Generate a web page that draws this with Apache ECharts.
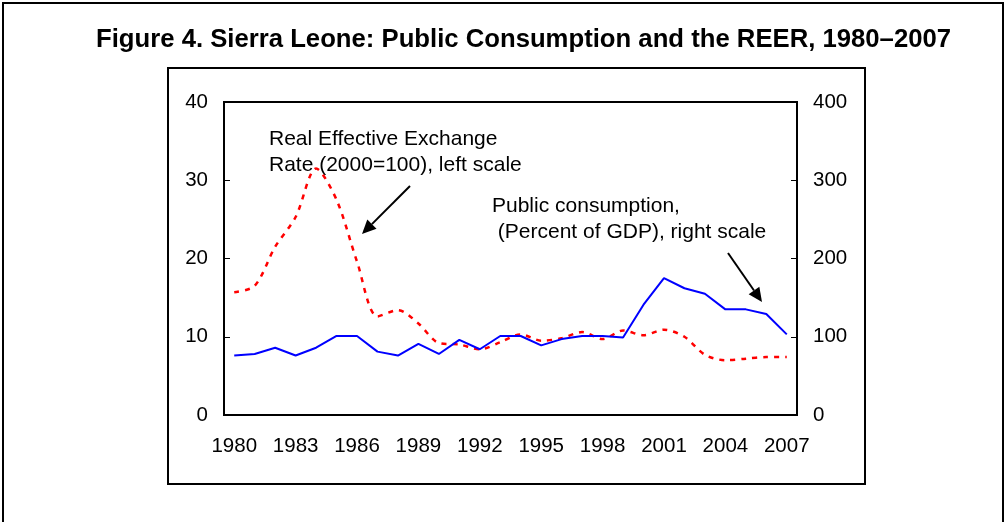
<!DOCTYPE html>
<html>
<head>
<meta charset="utf-8">
<script src="https://cdn.jsdelivr.net/npm/echarts@6/dist/echarts.min.js"></script>
<style>
  html, body { margin: 0; padding: 0; background: #fff; }
  #chart { width: 1008px; height: 522px; }
</style>
</head>
<body>
<div id="chart"></div>
<script>
  const years = [];
  for (let y = 1980; y <= 2007; y++) years.push(String(y));

  // blue line, read against the left scale
  const publicConsumption = [
    7.6, 7.8, 8.6, 7.6, 8.6, 10.1, 10.1, 8.1, 7.6, 9.1,
    7.8, 9.6, 8.4, 10.1, 10.1, 8.9, 9.7, 10.1, 10.1, 9.9,
    14.1, 17.5, 16.2, 15.5, 13.5, 13.5, 12.9, 10.3
  ];
  // red dashed line, read against the right scale
  const reer = [
    157, 165, 215, 253, 315, 275, 196, 126, 134, 117,
    92, 90, 84, 93, 103, 95, 98, 106, 97, 108,
    102, 109, 100, 77, 70, 72, 74, 74
  ];
  const leftTicks = [0, 10, 20, 30, 40];
  const rightTicks = [0, 100, 200, 300, 400];

  const font = 'Liberation Sans, Arial, sans-serif';

  const arrow = (x1, y1, x2, y2) => {
    const a = Math.atan2(y2 - y1, x2 - x1);
    const len = 14, w = 6.5;
    const bx = x2 - len * Math.cos(a), by = y2 - len * Math.sin(a);
    const px = -Math.sin(a) * w, py = Math.cos(a) * w;
    return [
      { type: 'line', shape: { x1: x1, y1: y1, x2: bx, y2: by }, style: { stroke: '#000', lineWidth: 2 } },
      { type: 'polygon', shape: { points: [[x2, y2], [bx + px, by + py], [bx - px, by - py]] }, style: { fill: '#000' } }
    ];
  };

  const chart = echarts.init(document.getElementById('chart'));
  chart.setOption({
    animation: false,
    backgroundColor: '#fff',
    title: {
      text: 'Figure 4. Sierra Leone: Public Consumption and the REER, 1980–2007',
      left: 91,
      top: 22,
      textStyle: { fontFamily: font, fontSize: 25.7, fontWeight: 'bold', color: '#000' }
    },
    grid: {
      left: 224, right: 211, top: 102, bottom: 107,
      show: true, borderColor: '#000', borderWidth: 2
    },
    xAxis: {
      type: 'category',
      data: years,
      boundaryGap: true,
      axisLine: { lineStyle: { color: '#000', width: 2 } },
      axisTick: { inside: true, length: 5, interval: 2, lineStyle: { color: '#000', width: 1 } },
      axisLabel: { interval: 2, margin: 21, fontFamily: font, fontSize: 20.5, color: '#000' }
    },
    yAxis: [
      {
        type: 'value', min: leftTicks[0], max: leftTicks[leftTicks.length - 1], interval: 10,
        splitLine: { show: false },
        axisLine: { show: true, lineStyle: { color: '#000', width: 2 } },
        axisTick: { show: true, inside: true, length: 6, lineStyle: { color: '#000' } },
        axisLabel: { margin: 16, fontFamily: font, fontSize: 20.5, color: '#000' }
      },
      {
        type: 'value', min: rightTicks[0], max: rightTicks[rightTicks.length - 1], interval: 100,
        splitLine: { show: false },
        axisLine: { show: true, lineStyle: { color: '#000', width: 2 } },
        axisTick: { show: true, inside: true, length: 6, lineStyle: { color: '#000' } },
        axisLabel: { margin: 16, fontFamily: font, fontSize: 20.5, color: '#000' }
      }
    ],
    series: [
      {
        name: 'Public consumption',
        type: 'line',
        yAxisIndex: 0,
        data: publicConsumption,
        symbol: 'none',
        lineStyle: { color: '#0000ff', width: 2 },
        z: 3
      },
      {
        name: 'REER',
        type: 'line',
        yAxisIndex: 1,
        data: reer,
        symbol: 'none',
        smooth: 0.3,
        lineStyle: { color: '#ff0000', width: 2.5, type: [5, 6] },
        z: 2
      }
    ],
    graphic: [
      { type: 'rect', shape: { x: 3, y: 3, width: 1000, height: 540 }, style: { fill: null, stroke: '#000', lineWidth: 2 }, silent: true },
      { type: 'rect', shape: { x: 168, y: 68, width: 697, height: 416 }, style: { fill: null, stroke: '#000', lineWidth: 2 }, silent: true },
      {
        type: 'text', left: 269, top: 126,
        style: { text: 'Real Effective Exchange\nRate (2000=100), left scale', fontFamily: font, fontSize: 21, lineHeight: 26, fill: '#000' }
      },
      {
        type: 'text', left: 492, top: 193,
        style: { text: 'Public consumption,\n (Percent of GDP), right scale', fontFamily: font, fontSize: 21, lineHeight: 26, fill: '#000' }
      },
      ...arrow(410, 186, 362, 234),
      ...arrow(728, 253, 762, 302)
    ]
  });
</script>
</body>
</html>
